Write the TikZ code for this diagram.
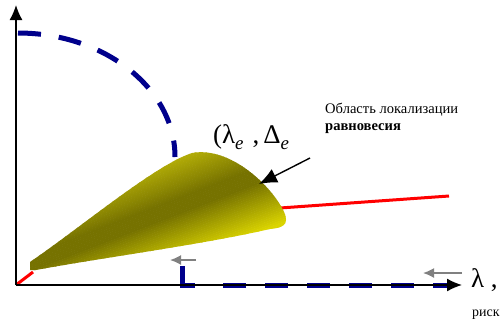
\documentclass[tikz,border=0pt]{standalone}
\usepackage{fontspec}
\setmainfont{Liberation Serif}
\usepackage{xcolor}
\usetikzlibrary{arrows.meta, positioning}

\definecolor{navyline}{RGB}{0,0,140}
\definecolor{olivedark}{RGB}{118,114,0}
\definecolor{olivetop}{RGB}{176,170,6}
\definecolor{olivelight}{RGB}{218,212,0}

\begin{document}
\begin{tikzpicture}[x=1bp, y=-1bp, >={Latex[length=15bp,width=13bp]},
    axis/.style={line width=1.4bp, ->},
    bound/.style={navyline, line width=5bp},
    trend/.style={red, line width=3bp},
    drift/.style={gray, line width=1.6bp, -{Latex[length=11bp,width=10bp]}}]
    \useasboundingbox (0,0) rectangle (502,320);

    % các điểm chính
    \coordinate (O) at (16,285);
    \coordinate (ytop) at (16,5);
    \coordinate (xend) at (462,285);

    % đường biên nét đứt phía trên
    \draw[bound, dash pattern=on 23bp off 18bp] (18,33)
        arc[start angle=-90, end angle=0, x radius=157, y radius=124];

    % đường đỏ
    \draw[trend] (O) -- (33,272);
    \draw[trend] (280,208) -- (449,196);

    % vùng cân bằng (tô bằng các dải màu)
    \begin{scope}
        \clip (30,270) -- (30,262) .. controls (80,228) and (155,165) .. (192,153)
            .. controls (230,146) and (272,186) .. (284,212)
            .. controls (290,225) and (282,228) .. (270,229)
            .. controls (200,245) and (100,258) .. (36,270) -- cycle;
        \begin{scope}[rotate around={21:(195,204)}]
            \foreach \d in {-90,-88,...,90} {
                \pgfmathsetmacro{\pa}{max(0,min(100,(\d+48)/36*100))}
                \pgfmathsetmacro{\pb}{max(0,min(100,(\d-2)/46*100))}
                \colorlet{strip}{olivedark!\pa!olivetop}
                \colorlet{strip}{olivelight!\pb!strip}
                \fill[strip] (-200,204+\d) rectangle (600,206.4+\d);
            }
        \end{scope}
    \end{scope}

    % đường biên nét đứt phía dưới
    \coordinate (corner) at (182,285);
    \draw[bound] (182,266) -- (corner) -- (195,285);
    \draw[bound, dash pattern=on 23bp off 19bp] (223,285) -- (447,285);

    % hệ trục
    \draw[axis] (O) -- (ytop);
    \draw[axis] (O) -- (xend);

    % mũi tên xám
    \coordinate (g1) at (196,260);
    \coordinate (g1e) at (170,260);
    \draw[drift] (g1) -- (g1e);
    \coordinate (g2) at (462,273);
    \coordinate (g2e) at (423,273);
    \draw[drift] (g2) -- (g2e);

    % nhãn
    \node[anchor=base west, inner sep=0pt, font=\fontsize{27}{27}\selectfont] (eqpt) at (213,143)
        {(λ\raisebox{-6bp}{\fontsize{19}{19}\selectfont\itshape e}\hspace{9bp},\hspace{4bp}Δ\raisebox{-6bp}{\fontsize{19}{19}\selectfont\itshape e}};
    \node[anchor=base west, inner sep=0pt, align=left, font=\fontsize{14.6}{17}\selectfont] (region) at (325,130)
        {Область локализации\\\textbf{равновесия}};
    \node[anchor=base west, inner sep=0pt, font=\fontsize{27}{27}\selectfont] (lam) at (471,287) {λ ,};
    \node[anchor=base west, inner sep=0pt, font=\fontsize{14}{14}\selectfont] (risk) at (472,316) {риск};

    % mũi tên chỉ vùng
    \coordinate (ptrstart) at (310,158);
    \coordinate (blobpt) at (259,184);
    \draw[line width=1.4bp, -{Latex[length=18bp,width=15bp]}] (ptrstart) -- (blobpt);
\end{tikzpicture}
\end{document}
